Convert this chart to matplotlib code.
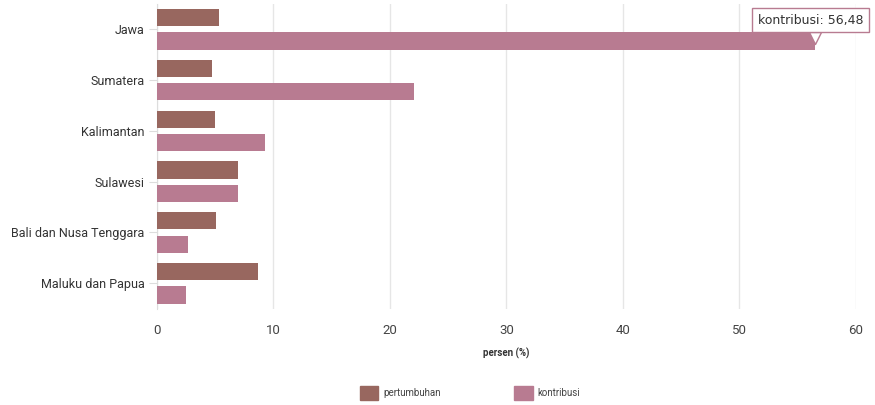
import numpy as np
import matplotlib.pyplot as plt
from matplotlib.patches import Patch

plt.rcParams["font.family"] = ["Roboto", "DejaVu Sans"]

regions = ["Jawa", "Sumatera", "Kalimantan", "Sulawesi",
           "Bali dan Nusa Tenggara", "Maluku dan Papua"]
pertumbuhan = [5.3, 4.7, 5.0, 7.0, 5.1, 8.7]
kontribusi = [56.48, 22.1, 9.3, 7.0, 2.7, 2.5]
xticks = [0, 10, 20, 30, 40, 50, 60]

C_PERT = "#98675f"
C_KONT = "#b87b91"

fig = plt.figure(figsize=(8.75, 4.05), dpi=100)
ax = fig.add_axes([0.1794, 0.238, 0.7986, 0.752])

y = np.arange(len(regions))
h = 0.34
ax.barh(y - 0.23, pertumbuhan, height=h, color=C_PERT, zorder=3)
ax.barh(y + 0.23, kontribusi, height=h, color=C_KONT, zorder=3)

ax.set_ylim(len(regions) - 0.5, -0.5)
ax.set_xlim(0, 60)
ax.set_yticks(y)
ax.set_yticklabels(regions, fontsize=9, color="#333333")
ax.set_xticks(xticks)
ax.set_xticklabels([str(t) for t in xticks], fontsize=9.5, color="#444444")
ax.tick_params(axis="y", length=6, color="#dddddd", pad=3)
ax.tick_params(axis="x", length=0, pad=11)

ax.grid(axis="x", color="#e6e6e6", lw=1, zorder=0)
for s in ["top", "right", "bottom"]:
    ax.spines[s].set_visible(False)
ax.spines["left"].set_color("#dddddd")

ax.set_xlabel("persen (%)", fontsize=7, fontweight="bold", color="#333333", labelpad=8)

# tooltip on the Jawa contribution bar
tip_x = kontribusi[0]
tip_y = y[0] + 0.23
ax.scatter([tip_x], [tip_y - 0.06], marker="v", s=75, color="white",
           edgecolors=C_KONT, linewidths=1, zorder=6, clip_on=False)
ax.annotate(f"kontribusi: {kontribusi[0]:.2f}".replace(".", ","),
            xy=(tip_x, tip_y), xytext=(-3, 15), textcoords="offset points",
            ha="center", va="center", fontsize=9, color="#333333",
            family=["DejaVu Sans"], zorder=7,
            bbox=dict(boxstyle="square,pad=0.45", fc="white", ec=C_KONT, lw=1))

handles = [Patch(color=C_PERT, label="pertumbuhan"),
           Patch(color=C_KONT, label="kontribusi")]
fig.legend(handles=handles, loc="center", bbox_to_anchor=(470 / 875, 0.03),
           ncol=2, frameon=False, fontsize=7, handlelength=1.9, handleheight=1.9,
           columnspacing=7.6, handletextpad=0.5, labelcolor="#444444")

fig.savefig("out.png", dpi=100)
